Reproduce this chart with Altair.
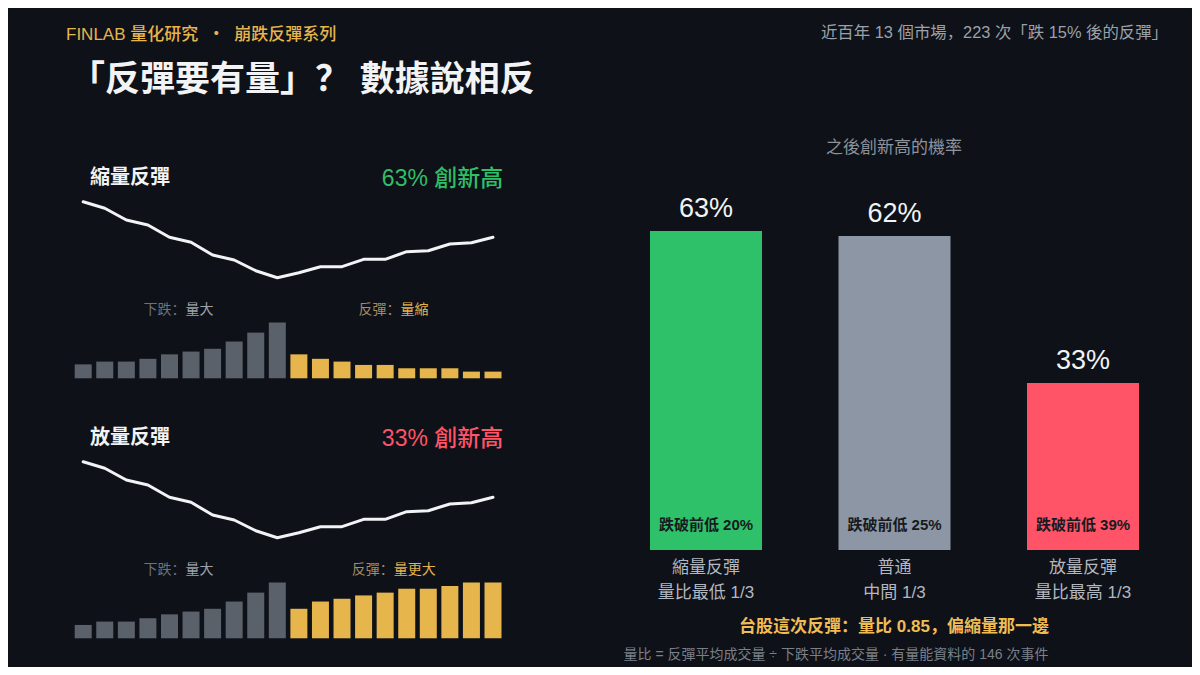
import altair as alt
import pandas as pd

# ---------------- data ----------------
price_path = [78.3, 71.7, 60.0, 55.0, 42.7, 37.7, 25.0, 20.0, 9.3, 2.3,
              7.3, 13.3, 13.3, 20.7, 20.7, 28.3, 29.3, 36.0, 37.3, 42.7]
shrink_down_vol = [25, 30, 30, 35, 43, 48, 53, 66, 82, 100]
shrink_up_vol = [43, 35, 30, 24, 24, 18, 18, 18, 12, 12]
expand_down_vol = [24, 30, 30, 36, 43, 48, 53, 66, 82, 100]
expand_up_vol = [53, 66, 71, 77, 82, 89, 89, 94, 100, 100]
phases = ["下跌", "反彈"]

groups = ["縮量反彈", "普通", "放量反彈"]
group_sub = ["量比最低 1/3", "中間 1/3", "量比最高 1/3"]
new_high_pct = [63, 62, 33]
break_low_pct = [20, 25, 39]

kicker = "FINLAB 量化研究 \u00a0・\u00a0 崩跌反彈系列"
headline = "「反彈要有量」？ 數據說相反"
source_note = "近百年 13 個市場，223 次「跌 15% 後的反彈」"
right_title = "之後創新高的機率"
summary = "台股這次反彈：量比 0.85，偏縮量那一邊"
footnote = "量比 = 反彈平均成交量 ÷ 下跌平均成交量 · 有量能資料的 146 次事件"

panels = [
    {"name": "縮量反彈", "result": "63% 創新高", "color": "#2fbf67",
     "down": shrink_down_vol, "up": shrink_up_vol,
     "down_label": ("下跌：", "量大"), "up_label": ("反彈：", "量縮"), "up_x": 350.5},
    {"name": "放量反彈", "result": "33% 創新高", "color": "#ff5468",
     "down": expand_down_vol, "up": expand_up_vol,
     "down_label": ("下跌：", "量大"), "up_label": ("反彈：", "量更大"), "up_x": 343.7},
]

# ---------------- style ----------------
FONT = "Liberation Sans, Noto Sans CJK SC"
BG = "#0e1118"
WHITE = "#f2f3f5"
GOLD = "#e6b54c"
VOL_GRAY = "#5b616b"
BAR_COLORS = ["#2fc16a", "#8d96a4", "#ff5468"]


def text_layer(label, x, y, size, color, align="left", weight="normal"):
    df = pd.DataFrame({"t": [label]})
    return alt.Chart(df).mark_text(
        font=FONT, fontSize=size, color=color, align=align,
        baseline="middle", fontWeight=weight
    ).encode(x=alt.value(x), y=alt.value(y), text="t:N")


layers = []

# ---------------- left panels ----------------
X_L = alt.Scale(domain=[0, 19], range=[75.2, 485.0], nice=False, zero=False, padding=0)
line_df = pd.DataFrame({"day": list(range(20)), "price": price_path})

for k, p in enumerate(panels):
    dy = 260 * k
    layers.append(
        alt.Chart(line_df).mark_line(
            color=WHITE, strokeWidth=3, strokeCap="round", strokeJoin="round"
        ).encode(
            x=alt.X("day:Q", scale=X_L, axis=None),
            y=alt.Y("price:Q", axis=None,
                    scale=alt.Scale(domain=[0, 100], range=[272 + dy, 172 + dy],
                                    nice=False, zero=False, padding=0)),
        )
    )
    vol_df = pd.DataFrame({
        "day": list(range(20)),
        "vol": p["down"] + p["up"],
        "phase": [phases[0]] * 10 + [phases[1]] * 10,
    })
    layers.append(
        alt.Chart(vol_df).mark_bar(size=17).encode(
            x=alt.X("day:Q", scale=X_L, axis=None),
            y=alt.Y("vol:Q", axis=None,
                    scale=alt.Scale(domain=[0, 100], range=[370.3 + dy, 314.6 + dy],
                                    nice=False, padding=0)),
            color=alt.Color("phase:N", legend=None,
                            scale=alt.Scale(domain=phases, range=[VOL_GRAY, GOLD])),
        )
    )
    layers.append(text_layer(p["name"], 82, 170.3 + dy, 20, WHITE, weight="bold"))
    layers.append(text_layer(p["result"], 495.3, 171.3 + dy, 23, p["color"],
                             align="right", weight=500))
    layers.append(text_layer(p["down_label"][0], 135.5, 302 + dy, 14, "#6c717a"))
    layers.append(text_layer(p["down_label"][1], 177.5, 302 + dy, 14, "#9da2aa"))
    layers.append(text_layer(p["up_label"][0], p["up_x"], 302 + dy, 14, "#a48d63"))
    layers.append(text_layer(p["up_label"][1], p["up_x"] + 42, 302 + dy, 14, "#e2b24d"))

# ---------------- right panel ----------------
rp = pd.DataFrame({
    "group": groups, "sub": group_sub, "pct": new_high_pct,
    "low": break_low_pct, "i": list(range(len(groups))),
})
rp["pct_label"] = rp["pct"].astype(str) + "%"
rp["low_label"] = "跌破前低 " + rp["low"].astype(str) + "%"

X_R = alt.Scale(domain=[0, 2], range=[698, 1075], nice=False, zero=False, padding=0)
Y_R = alt.Scale(domain=[0, 100], range=[542, 35.7], nice=False, padding=0)
xr = alt.X("i:Q", scale=X_R, axis=None)

layers.append(
    alt.Chart(rp).mark_bar(size=112).encode(
        x=xr,
        y=alt.Y("pct:Q", scale=Y_R, axis=None),
        color=alt.Color("group:N", legend=None,
                        scale=alt.Scale(domain=groups, range=BAR_COLORS)),
    )
)
layers.append(
    alt.Chart(rp).mark_text(font=FONT, fontSize=27, color=WHITE, dy=-22,
                            baseline="middle").encode(
        x=xr, y=alt.Y("pct:Q", scale=Y_R, axis=None), text="pct_label:N")
)
layers.append(
    alt.Chart(rp).mark_text(font=FONT, fontSize=15, color="#171a20",
                            baseline="middle", fontWeight="bold").encode(
        x=xr, y=alt.value(517), text="low_label:N")
)
layers.append(
    alt.Chart(rp).mark_text(font=FONT, fontSize=17, color="#b3b8c0",
                            baseline="middle").encode(
        x=xr, y=alt.value(560.3), text="group:N")
)
layers.append(
    alt.Chart(rp).mark_text(font=FONT, fontSize=17, color="#b3b8c0",
                            baseline="middle").encode(
        x=xr, y=alt.value(585), text="sub:N")
)

# ---------------- headings / notes ----------------
layers.append(text_layer(kicker, 58, 27, 17, GOLD, weight=500))
layers.append(text_layer(headline, 62, 72, 35, WHITE, weight="bold"))
layers.append(text_layer(source_note, 1160, 25.3, 16.4, "#9ba1aa", align="right"))
layers.append(text_layer(right_title, 886, 140.3, 17, "#8d939c", align="center"))
layers.append(text_layer(summary, 886, 618.7, 17, "#f0bd55", align="center", weight="bold"))
layers.append(text_layer(footnote, 828, 647, 14, "#7a8089", align="center"))

chart = alt.layer(*layers).resolve_scale(
    x="independent", y="independent", color="independent"
).properties(
    width=1184, height=659, padding=0,
    autosize=alt.AutoSizeParams(type="none"),
    background=BG,
).configure_view(stroke=None)

chart.save("out.html", embed_options={"renderer": "svg", "actions": False})
